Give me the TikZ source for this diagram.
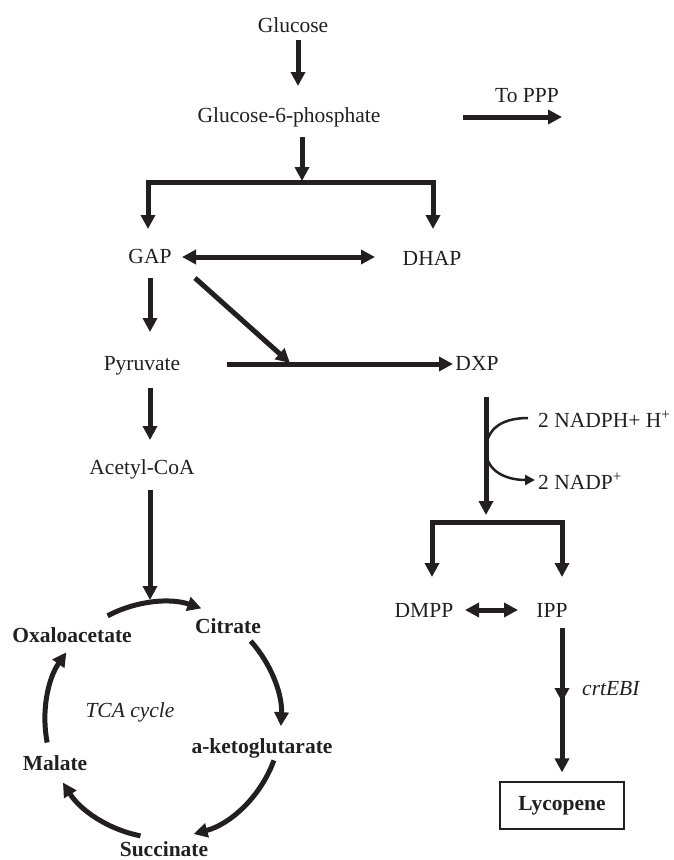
\documentclass[tikz,border=0pt]{standalone}
\usepackage{fontspec}
\setmainfont{Liberation Serif}
\usetikzlibrary{arrows.meta,calc}
\definecolor{ink}{HTML}{231F20}
\tikzset{
  lbl/.style={anchor=base,inner sep=0pt,text=ink,font=\fontsize{21.5}{24}\selectfont},
  bold/.style={lbl,font=\fontsize{21.5}{24}\selectfont\bfseries},
  ital/.style={lbl,font=\fontsize{21.5}{24}\selectfont\itshape},
  flow/.style={draw=ink,line width=5pt,-{Triangle[length=14pt,width=14pt]}},
  both/.style={draw=ink,line width=5pt,{Triangle[length=14pt,width=14pt]}-{Triangle[length=14pt,width=14pt]}},
  curl/.style={draw=ink,line width=2.5pt,-{Triangle[length=10pt,width=10pt]}}
}
\begin{document}
\begin{tikzpicture}[x=1pt,y=-1pt]
\useasboundingbox (0,0) rectangle (674,860);
% glycolysis side
\node[lbl] (glc) at (293,32) {Glucose};
\node[lbl] (g6p) at (289,122) {Glucose-6-phosphate};
\node[lbl] (ppp) at (527,102) {To PPP};
\node[lbl] (gap) at (150,263) {GAP};
\node[lbl] (dhap) at (432,265) {DHAP};
\node[lbl] (pyr) at (142,370) {Pyruvate};
\node[lbl] (acoa) at (142,474) {Acetyl-CoA};
% MEP pathway
\node[lbl] (dxp) at (477,370) {DXP};
\node[lbl,anchor=base west] (nadph) at (538,427) {2 NADPH+ H\textsuperscript{+}};
\node[lbl,anchor=base west] (nadp) at (538,489) {2 NADP\textsuperscript{+}};
\node[lbl] (dmpp) at (424,617) {DMPP};
\node[lbl] (ipp) at (552,617) {IPP};
\node[ital,anchor=base west] (crt) at (582,695) {crtEBI};
\node[bold,anchor=center,draw=ink,line width=1.2pt,minimum width=124pt,minimum height=47pt] (lyc) at (562,805.5) {Lycopene};
% TCA cycle
\node[bold] (cit) at (228,633) {Citrate};
\node[bold] (oaa) at (72,642) {Oxaloacetate};
\node[bold] (akg) at (262,753) {a-ketoglutarate};
\node[bold] (mal) at (55,770) {Malate};
\node[bold] (suc) at (164,856) {Succinate};
\node[ital] (tca) at (130,717) {TCA cycle};
\coordinate (cc) at (163,720);
\coordinate (tp) at (486,450);

\draw[flow] (glc.base) ++(5,8) -- ++(0,46);
\draw[flow] (g6p.base) ++(13,15) -- ++(0,44);
\draw[flow] (ppp.base) ++(-64,15) -- ++(99,0);
\draw[both] (gap.base) ++(-2,-34) -- ++(0,-47) -| ++(285,47);
\draw[both] (gap.base) ++(32,-6) -- ++(193,0);
\draw[flow] (gap.base) ++(0,15) -- ++(0,54);
\draw[flow] (gap.base) ++(45,15) -- ++(95,85);
\draw[flow] (pyr.base) ++(85,-6) -- ++(226,0);
\draw[flow] (pyr.base) ++(8,18) -- ++(0,52);
\draw[flow] (acoa.base) ++(8,16) -- ++(0,110);

\draw[flow] (dxp.base) ++(9,27) -- ++(0,118);
\draw[curl] (nadph.base west) ++(-10,-9) .. controls +(-30,0) and +(0,-18) .. (tp)
  .. controls +(0,22) and +(-28,0) .. ([shift={(-3,-9)}]nadp.base west);
\draw[both] (dmpp.base) ++(8,-40) -- ++(0,-55) -| ++(130,55);
\draw[both] (dmpp.base) ++(41,-7) -- ++(53,0);
\draw[flow] (ipp.base) ++(10,11) -- ++(0,74);
\draw[flow,shorten >=9pt] (ipp.base) ++(10,78) -- (lyc.north);

\foreach \a/\b in {-118/-71,-42/3,20/75,101/148,169/215}
  \draw[flow] ($(cc)+(\a:118)$) arc[start angle=\a,end angle=\b,radius=118];
\end{tikzpicture}
\end{document}
